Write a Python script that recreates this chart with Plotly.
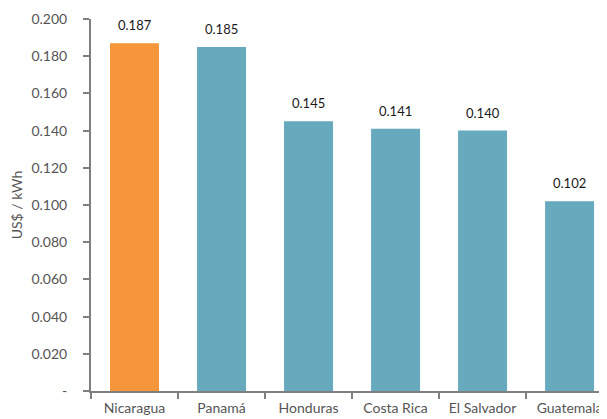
import plotly.graph_objects as go

countries = ["Nicaragua", "Panamá", "Honduras", "Costa Rica", "El Salvador", "Guatemala"]
values = [0.187, 0.185, 0.145, 0.141, 0.140, 0.102]
bar_colors = ["#F5963A", "#67A9BD", "#67A9BD", "#67A9BD", "#67A9BD", "#67A9BD"]
y_tickvals = [0, 0.02, 0.04, 0.06, 0.08, 0.10, 0.12, 0.14, 0.16, 0.18, 0.20]
y_ticktext = ["-", "0.020", "0.040", "0.060", "0.080", "0.100", "0.120", "0.140", "0.160", "0.180", "0.200"]

FONT = "Lato"
AXIS = "#7f7f7f"
TXT = "#555555"

fig = go.Figure()
fig.add_trace(go.Bar(x=countries, y=values, marker=dict(color=bar_colors, line=dict(width=0)),
                     hoverinfo="skip"))

for c, v in zip(countries, values):
    fig.add_annotation(x=c, y=v, text=f"{v:.3f}", showarrow=False, yanchor="bottom",
                       yshift=8, font=dict(family=FONT, size=13, color="#1a1a1a"))

# page body has an 8px default margin; size the figure to end at the window edge
fig.update_layout(
    width=599, height=411,
    margin=dict(l=83, r=0, t=11, b=28),
    paper_bgcolor="white", plot_bgcolor="white",
    showlegend=False,
    bargap=0.437,
    font=dict(family=FONT, size=13, color=TXT),
    xaxis=dict(
        type="category", range=[-0.5, 5.43], automargin=False,
        showline=True, linecolor=AXIS, linewidth=2,
        ticks="outside", tickson="boundaries", ticklen=6, tickcolor=AXIS, tickwidth=1.5,
        ticklabelstandoff=3,
        showgrid=False, tickfont=dict(family=FONT, size=14, color=TXT),
    ),
    yaxis=dict(
        range=[0, 0.2], tickvals=y_tickvals, ticktext=y_ticktext, automargin=False,
        showline=True, linecolor=AXIS, linewidth=2,
        ticks="outside", ticklen=6, tickcolor=AXIS, tickwidth=1.5, ticklabelstandoff=13,
        showgrid=False, zeroline=False,
        tickfont=dict(family=FONT, size=14, color=TXT),
        title=dict(text="US$ / kWh", font=dict(family=FONT, size=14, color=TXT), standoff=17),
    ),
)

fig.write_html("out.html")
